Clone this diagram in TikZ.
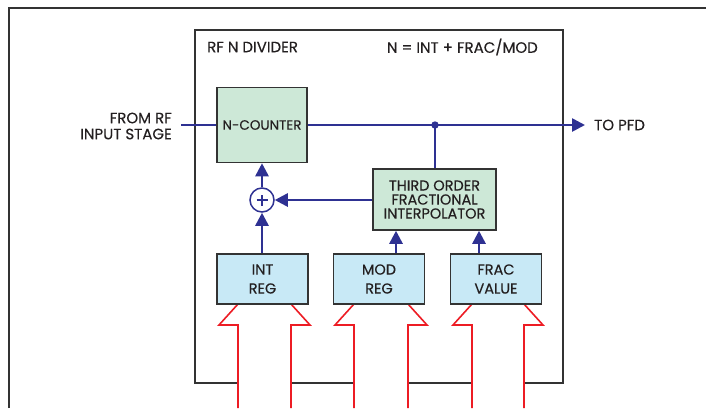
\documentclass[tikz,border=0pt]{standalone}
\usepackage{fontspec}
\setmainfont{Poppins}[FakeBold=0.35]
\usetikzlibrary{arrows.meta}
\definecolor{bl}{HTML}{2E3192}
\definecolor{rd}{HTML}{ED1C24}
\definecolor{gr}{HTML}{CDE8D7}
\definecolor{lb}{HTML}{C8E9F6}
\definecolor{fr}{HTML}{333333}
\definecolor{tx}{HTML}{231F20}
\tikzset{
  blk/.style={draw=fr, line width=1.5pt, inner sep=0pt, align=center, text=tx, font=\fontsize{14.5}{14}\selectfont},
  greenbox/.style={blk, fill=gr},
  regbox/.style={blk, fill=lb, minimum width=91pt, minimum height=50pt, font=\fontsize{14.5}{19}\selectfont},
  sig/.style={draw=bl, line width=2.6pt},
  sigar/.style={sig, -{Triangle[length=13pt,width=13pt]}},
  redar/.style={draw=rd, line width=1.6pt},
  lbl/.style={font=\fontsize{15}{16}\selectfont, inner sep=0pt, text=tx},
}
\begin{document}
\begin{tikzpicture}[x=1pt,y=-1pt]
\useasboundingbox (0,0) rectangle (706,408);
% outer frame
\draw[fr, line width=1.2pt] (9,408) -- (9,8) -- (706,8);
% inner box
\draw[fr, line width=1.5pt] (195,30) rectangle (563,383);
% red arrows
\foreach \a/\b in {238/291, 354/408, 472/524}{
  \fill[white] (\a,408) -- (\a,325) -- ({\a-19},325) -- (\a,304) -- (\b,304) -- ({\b+19},325) -- (\b,325) -- (\b,408) -- cycle;
  \draw[redar] (\a,408) -- (\a,325) -- ({\a-19},325) -- (\a,304);
  \draw[redar] (\b,408) -- (\b,325) -- ({\b+19},325) -- (\b,304);
}
% labels
\node[lbl, anchor=west] (title) at (207,47) {RF N DIVIDER};
\node[lbl, anchor=east] (eq) at (538,47) {N = INT + FRAC/MOD};
\node[lbl, anchor=east, align=right] (from) at (172,126) {FROM RF\\INPUT STAGE};
\node[lbl, anchor=west] (pfd) at (594,125) {TO PFD};
% blocks
\node[greenbox, minimum width=90pt, minimum height=75pt, font=\fontsize{13.5}{14}\selectfont] (nc) at (262,125) {N-COUNTER};
\node[greenbox, minimum width=123pt, minimum height=61pt] (ip) at (434.5,199.5) {THIRD ORDER\\FRACTIONAL\\INTERPOLATOR};
\node[regbox] (intr) at (262.5,279) {INT\\REG};
\node[regbox] (modr) at (379,279) {MOD\\REG};
\node[regbox] (fracr) at (496,279) {FRAC\\VALUE};
\node[circle, draw=bl, line width=1.5pt, fill=white, minimum size=24pt, inner sep=0pt] (add) at (262,200) {};
\draw[bl, line width=2.2pt] ([xshift=-5.5pt]add.center) -- ([xshift=5.5pt]add.center) ([yshift=-5.5pt]add.center) -- ([yshift=5.5pt]add.center);
% connectors
\coordinate (in) at (181,125);
\coordinate (out) at (585,125);
\coordinate (jn) at (435,125);
\draw[sig] (in) -- (nc.west);
\draw[sigar] (nc.east) -- (out);
\fill[bl] (jn) circle (3.7pt);
\draw[sig] (jn) -- (jn |- ip.north);
\draw[sigar] (ip.west |- add) -- (add.east);
\draw[sigar] (add.north) -- (nc.south);
\draw[sigar] (intr.north -| add) -- (add.south);
\draw[sigar] (modr.north -| 396,0) -- (396,0 |- ip.south);
\draw[sigar] (fracr.north -| 479,0) -- (479,0 |- ip.south);
\end{tikzpicture}
\end{document}
